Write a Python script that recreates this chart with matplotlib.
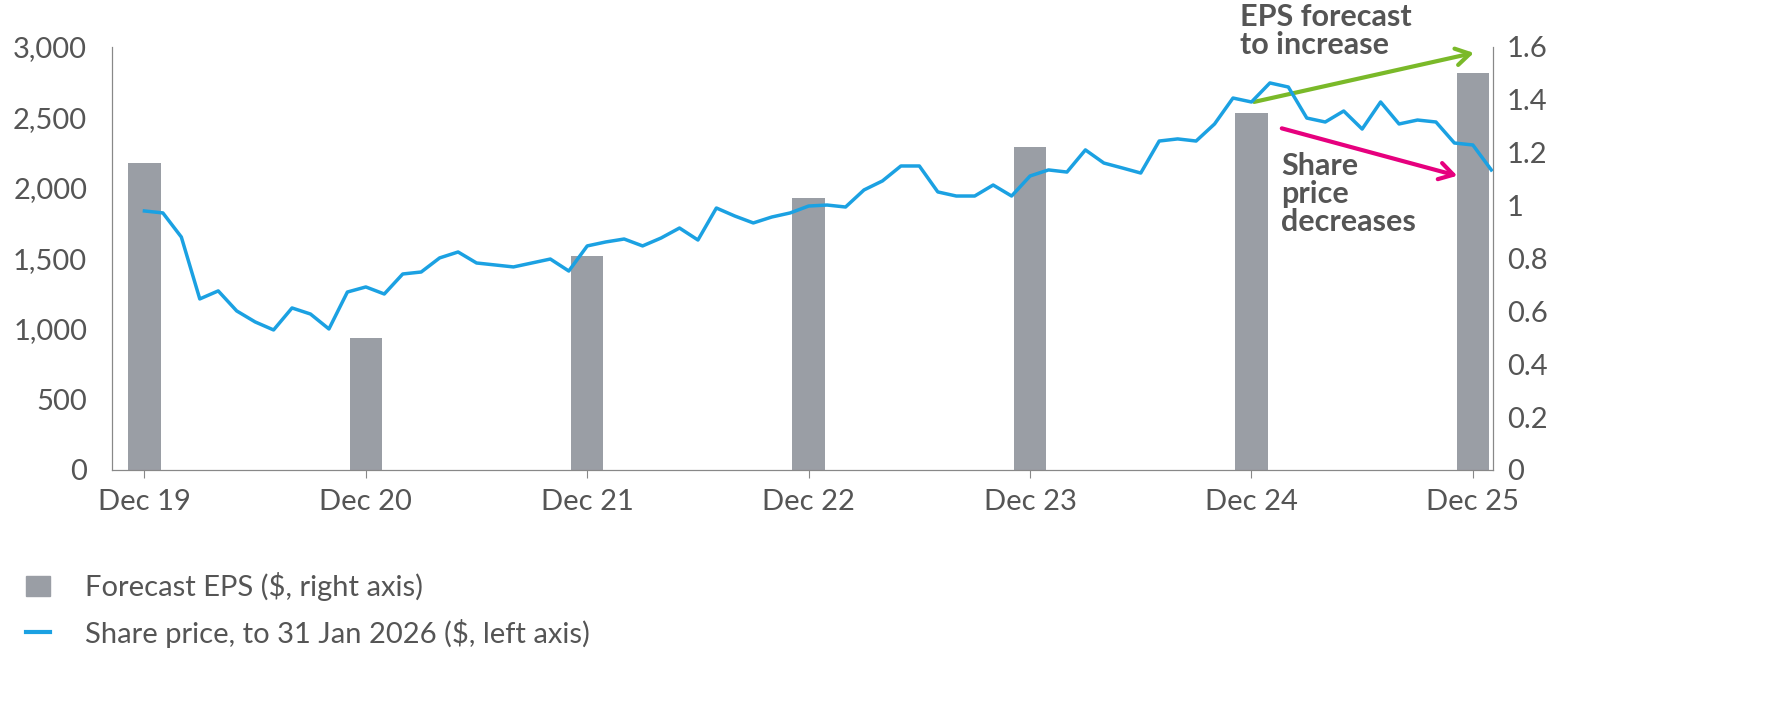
import matplotlib
matplotlib.use("Agg")
import matplotlib.pyplot as plt
from matplotlib.lines import Line2D
from matplotlib.patches import Patch

plt.rcParams['font.family'] = ['Lato', 'DejaVu Sans']

tick_labels = ["Dec 19", "Dec 20", "Dec 21", "Dec 22", "Dec 23", "Dec 24", "Dec 25"]
eps_values = [1.16, 0.50, 0.81, 1.03, 1.22, 1.35, 1.50]
price = [1837, 1823, 1652, 1213, 1270, 1128, 1050, 993, 1149, 1106, 1000, 1262, 1298, 1248,
         1390, 1404, 1504, 1546, 1468, 1454, 1440, 1468, 1496, 1411, 1589, 1617, 1638, 1589,
         1645, 1716, 1631, 1858, 1801, 1752, 1794, 1823, 1872, 1879, 1865, 1986, 2050, 2156,
         2156, 1972, 1943, 1943, 2021, 1943, 2085, 2128, 2113, 2270, 2177, 2142, 2106, 2333,
         2348, 2333, 2454, 2638, 2610, 2745, 2716, 2496, 2468, 2546, 2418, 2610, 2454, 2482,
         2468, 2319, 2305, 2128]

GRAY = '#9a9ea5'
BLUE = '#1ba1e2'
TXT = '#555555'

fig = plt.figure(figsize=(17.66, 7.23), dpi=100)
ax = fig.add_axes([0.0635, 0.35, 0.782, 0.585])
ax2 = ax.twinx()
ax.set_zorder(ax2.get_zorder() + 1)
ax.patch.set_visible(False)

bar_x = [12 * i for i in range(len(eps_values))]
ax2.bar(bar_x, eps_values, width=1.75, color=GRAY)
ax.plot(range(len(price)), price, color=BLUE, lw=2.5)

ax.set_xlim(-1.75, 73.1)
ax.set_ylim(0, 3000)
ax2.set_ylim(0, 1.6)
ax.set_yticks(range(0, 3001, 500))
ax.set_yticklabels([f"{v:,}" for v in range(0, 3001, 500)])
ax2.set_yticks([0, 0.2, 0.4, 0.6, 0.8, 1.0, 1.2, 1.4, 1.6])
ax2.set_yticklabels(["0", "0.2", "0.4", "0.6", "0.8", "1", "1.2", "1.4", "1.6"])
ax.set_xticks(bar_x)
ax.set_xticklabels(tick_labels)

for a in (ax, ax2):
    for s in a.spines.values():
        s.set_color('#888888')
    a.spines['top'].set_visible(False)
    a.tick_params(labelsize=21, colors=TXT, length=6, color='#888888')
ax.tick_params(axis='y', length=0, pad=18)
ax2.tick_params(axis='y', length=0, pad=10)
ax.tick_params(axis='x', pad=8)

ax2.annotate("", xy=(72.2, 1.58), xytext=(60, 1.39),
             arrowprops=dict(arrowstyle='->,head_length=1.0,head_width=0.6', color='#7ab929', lw=3))
ax2.annotate("", xy=(71.3, 1.11), xytext=(61.5, 1.295),
             arrowprops=dict(arrowstyle='->,head_length=1.0,head_width=0.6', color='#e6007e', lw=3))
fig.text(1240/1766, 1 - 3/723, "EPS forecast\nto increase", fontsize=22, fontweight='bold',
         color=TXT, va='top', ha='left', linespacing=1.0)
fig.text(1281/1766, 1 - 152/723, "Share\nprice\ndecreases", fontsize=22, fontweight='bold',
         color=TXT, va='top', ha='left', linespacing=1.0)

handles = [Patch(color=GRAY), Line2D([0], [0], color=BLUE, lw=3)]
fig.legend(handles, ["Forecast EPS ($, right axis)", "Share price, to 31 Jan 2026 ($, left axis)"],
           loc='upper left', bbox_to_anchor=(0.0, 0.245), frameon=False, fontsize=21,
           labelcolor=TXT, handlelength=0.8, handletextpad=1.2, labelspacing=0.6)

fig.savefig("out.png", dpi=100)
